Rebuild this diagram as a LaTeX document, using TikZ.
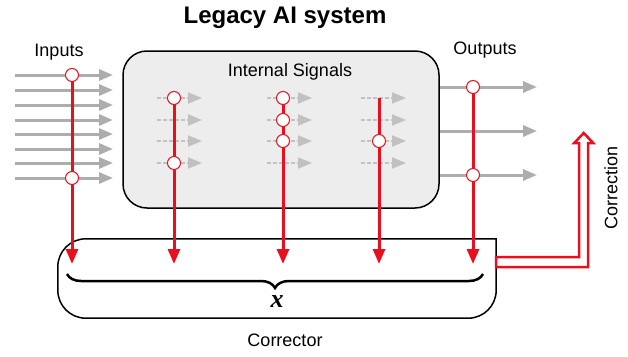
\documentclass[tikz,border=0pt]{standalone}
\usepackage{fontspec}
\setmainfont{Liberation Sans}
\newfontfamily\varfont{Liberation Serif}
\usetikzlibrary{arrows.meta,decorations.pathreplacing}
\definecolor{sigred}{HTML}{E8101E}
\definecolor{siggray}{HTML}{ADADAD}
\definecolor{boxgray}{HTML}{EDEDED}
\tikzset{
	sig/.style={draw=siggray, line width=3pt, -{Triangle[length=14pt,width=11pt]}},
	insig/.style={draw=siggray!75, line width=2pt, dash pattern=on 4pt off 2pt, -{Triangle[length=14pt,width=11pt,fill=siggray!75]}},
	tapline/.style={draw=sigred, line width=3pt},
	taparrow/.style={tapline, -{Triangle[length=15pt,width=12pt]}},
	tap/.style={circle, draw=sigred, fill=white, line width=1pt, inner sep=0pt, minimum size=13pt},
	lbl/.style={font=\fontsize{18}{21}\selectfont},
}
\begin{document}
\begin{tikzpicture}
	\useasboundingbox (0pt,0pt) rectangle (628pt,-356pt);
	% labels
	\node[font=\fontsize{24}{28}\selectfont\bfseries] (title) at (285pt,-18pt) {Legacy AI system};
	\node[lbl] (inlbl) at (59pt,-52pt) {Inputs};
	\node[lbl] (outlbl) at (485pt,-50pt) {Outputs};
	% legacy system
	\node[draw, line width=1.5pt, fill=boxgray, rounded corners=24pt, minimum width=316pt, minimum height=157pt] (sys) at (281pt,-129.5pt) {};
	\node[lbl] (intlbl) at (290pt,-72pt) {Internal Signals};
	% inputs
	\foreach \y in {75,90,105,120,134,149,163,178}
		\draw[sig] (15pt,-\y pt) -- (113pt,-\y pt);
	% internal signals
	\foreach \x in {157,267,361}
		\foreach \y in {98,120,141,163}
			\draw[insig] (\x pt,-\y pt) -- ++(45pt,0pt);
	% outputs
	\foreach \y in {87,131,175}
		\draw[sig] (sys.east |- 0pt,-\y pt) -- (537pt,-\y pt);
	% corrector
	\node[minimum width=438pt, minimum height=79pt] (corr) at (277pt,-278.5pt) {};
	\draw[line width=1.5pt, fill=white] (corr.north east) [rounded corners=28pt] -- (corr.south east) -- (corr.south west) -- (corr.north west) [sharp corners] -- cycle;
	\draw[decorate, decoration={brace, mirror, amplitude=14pt}, line width=2.5pt] (67pt,-274pt) -- (483pt,-274pt);
	\node[font=\fontsize{26}{28}\selectfont\varfont\bfseries\itshape] (xvec) at (277pt,-302pt) {x};
	\node[lbl] (corrlbl) at (285pt,-340pt) {Corrector};
	% taps
	\coordinate (tipline) at (0pt,-264pt);
	\coordinate (in1) at (72pt,-75pt);
	\coordinate (in2) at (72pt,-178pt);
	\coordinate (ga1) at (174pt,-98pt);
	\coordinate (ga2) at (174pt,-163pt);
	\coordinate (gb1) at (283pt,-98pt);
	\coordinate (gb2) at (283pt,-120pt);
	\coordinate (gb3) at (283pt,-141pt);
	\coordinate (gc0) at (379pt,-98pt);
	\coordinate (gc1) at (379pt,-141pt);
	\coordinate (out1) at (473pt,-87pt);
	\coordinate (out2) at (473pt,-175pt);
	\foreach \c in {in1,ga1,gb1,gc0,out1}
		\draw[taparrow] (\c) -- (\c |- tipline);
	\foreach \c in {in1,in2,ga1,ga2,gb1,gb2,gb3,gc1,out1,out2}
		\node[tap] (t-\c) at (\c) {};
	% correction
	\coordinate (cfoot) at (corr.east |- 0pt,-262pt);
	\draw[draw=sigred, fill=white, line width=2.5pt, miter limit=10] ([yshift=5pt]cfoot) -- ++(83pt,0pt) -- ++(0pt,114pt) -- ++(-5pt,0pt) -- ++(9.5pt,10pt) -- ++(9.5pt,-10pt) -- ++(-5pt,0pt) -- ++(0pt,-124pt) -- ++(-92pt,0pt) -- cycle;
	\node[lbl, rotate=90] (corrtxt) at (611pt,-188pt) {Correction};
\end{tikzpicture}
\end{document}
